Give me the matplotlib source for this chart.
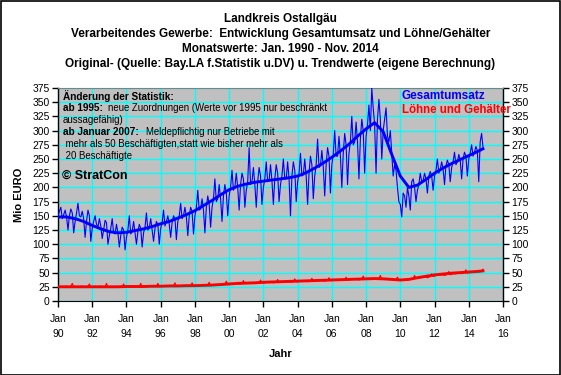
import matplotlib
matplotlib.use("Agg")
import matplotlib.pyplot as plt
from matplotlib.patches import Rectangle
import numpy as np

# ---------------- data ----------------
start_year = 1990
umsatz = [
    150, 158, 165, 145, 152, 160, 148, 125, 150, 162, 155, 120,   # 1990
    140, 155, 172, 150, 148, 158, 145, 112, 140, 160, 150, 105,   # 1991
    128, 140, 150, 135, 130, 145, 132, 110, 125, 142, 138, 100,   # 1992
    115, 128, 145, 120, 118, 135, 120, 95, 115, 130, 125, 90,     # 1993
    112, 125, 150, 118, 122, 140, 120, 100, 122, 135, 128, 95,    # 1994
    120, 130, 155, 125, 128, 145, 125, 105, 128, 140, 135, 100,   # 1995
    128, 138, 160, 132, 140, 150, 135, 112, 138, 150, 145, 108,   # 1996
    140, 150, 172, 145, 150, 165, 148, 115, 150, 165, 158, 118,   # 1997
    150, 165, 195, 160, 162, 180, 160, 120, 165, 185, 170, 130,   # 1998
    165, 180, 215, 175, 180, 205, 180, 140, 185, 205, 190, 150,   # 1999
    185, 200, 230, 195, 200, 225, 200, 160, 205, 225, 215, 165,   # 2000
    195, 210, 270, 205, 210, 235, 205, 165, 210, 235, 220, 170,   # 2001
    200, 215, 245, 210, 212, 240, 212, 170, 215, 240, 225, 175,   # 2002
    205, 220, 250, 215, 215, 245, 215, 150, 220, 245, 230, 175,   # 2003
    210, 225, 260, 220, 222, 250, 220, 170, 225, 255, 240, 180,   # 2004
    220, 240, 285, 235, 238, 265, 235, 185, 240, 270, 255, 190,   # 2005
    240, 258, 300, 255, 255, 290, 255, 200, 260, 295, 275, 205,   # 2006
    260, 280, 325, 275, 280, 315, 280, 215, 285, 320, 300, 225,   # 2007
    290, 310, 345, 300, 375, 340, 310, 225, 320, 355, 320, 250,   # 2008
    300, 320, 340, 290, 280, 300, 260, 220, 240, 230, 200, 175,   # 2009
    170, 148, 190, 185, 165, 200, 185, 160, 210, 215, 200, 175,   # 2010
    195, 205, 225, 210, 212, 225, 215, 190, 220, 228, 220, 195,   # 2011
    220, 230, 250, 225, 232, 245, 232, 205, 238, 248, 240, 210,   # 2012
    235, 245, 262, 240, 245, 258, 248, 215, 250, 262, 255, 220,   # 2013
    250, 260, 275, 255, 262, 272, 265, 210, 280, 295, 270,        # 2014 (Jan-Nov)
]
loehne = [
    25, 25, 25, 26, 25, 26, 26, 25, 25, 26, 31, 26,
    25, 25, 25, 25, 26, 26, 25, 25, 25, 26, 30, 25,
    25, 25, 26, 25, 25, 26, 26, 25, 25, 25, 31, 25,
    25, 24, 25, 25, 25, 26, 25, 25, 24, 25, 30, 25,
    25, 25, 25, 25, 26, 26, 25, 25, 25, 26, 31, 25,
    25, 25, 26, 26, 26, 27, 26, 26, 26, 26, 31, 26,
    26, 26, 26, 26, 26, 27, 26, 26, 26, 27, 32, 26,
    26, 26, 26, 27, 27, 27, 27, 26, 26, 27, 32, 27,
    27, 27, 27, 27, 28, 28, 28, 27, 28, 28, 33, 28,
    28, 28, 28, 29, 29, 29, 29, 28, 29, 29, 35, 29,
    29, 30, 30, 30, 30, 31, 31, 30, 30, 31, 36, 31,
    31, 31, 31, 32, 32, 32, 32, 31, 32, 32, 37, 32,
    32, 32, 33, 33, 33, 33, 33, 32, 33, 33, 38, 33,
    33, 33, 34, 34, 34, 34, 34, 33, 34, 34, 39, 34,
    34, 35, 35, 35, 35, 36, 35, 34, 35, 35, 40, 35,
    35, 36, 36, 36, 36, 37, 36, 35, 36, 36, 41, 36,
    36, 37, 37, 37, 37, 38, 37, 36, 37, 38, 42, 37,
    37, 38, 38, 38, 38, 39, 38, 37, 38, 39, 44, 38,
    38, 39, 39, 39, 39, 40, 39, 38, 39, 40, 45, 39,
    38, 38, 38, 38, 38, 39, 38, 37, 38, 38, 42, 37,
    36, 37, 37, 38, 38, 39, 39, 38, 39, 40, 45, 40,
    40, 41, 41, 42, 42, 43, 42, 41, 42, 43, 48, 43,
    44, 45, 45, 45, 46, 46, 46, 45, 46, 47, 52, 46,
    47, 48, 48, 48, 49, 49, 49, 48, 49, 50, 55, 49,
    50, 50, 51, 51, 51, 52, 52, 51, 52, 53, 56,
]
trend_years = [1990.0, 1990.5, 1991.0, 1991.5, 1992.0, 1992.5, 1993.0, 1993.5,
               1994.0, 1994.5, 1995.0, 1995.5, 1996.0, 1996.5, 1997.0, 1997.5,
               1998.0, 1998.5, 1999.0, 1999.5, 2000.0, 2000.5, 2001.0, 2001.5,
               2002.0, 2002.5, 2003.0, 2003.5, 2004.0, 2004.5, 2005.0, 2005.5,
               2006.0, 2006.5, 2007.0, 2007.5, 2008.0, 2008.5, 2009.0, 2009.5,
               2010.0, 2010.5, 2011.0, 2011.5, 2012.0, 2012.5, 2013.0, 2013.5,
               2014.0, 2014.5, 2014.83]
umsatz_trend = [148, 148, 145, 140, 133, 127, 122, 120,
                121, 124, 127, 131, 136, 140, 146, 152,
                159, 168, 177, 187, 196, 202, 206, 209,
                211, 213, 215, 217, 220, 226, 234, 243,
                253, 264, 276, 290, 303, 314, 298, 258,
                220, 200, 204, 214, 225, 234, 242, 249,
                256, 263, 268]
loehne_trend = [25, 25, 25, 25, 25, 25, 25, 25,
                25.5, 25.5, 25.5, 26, 26, 26.5, 26.5, 27,
                27, 27.5, 28, 29, 30, 31, 31.5, 32,
                33, 33.5, 34, 34.5, 35, 35.5, 36, 36.5,
                37, 37.5, 38, 38.5, 39, 39.5, 39, 38,
                37, 38, 41, 43.5, 46, 47.5, 49, 50,
                51, 52, 53]
xtick_years = list(range(1990, 2017, 2))
xtick_labels = ["Jan\n%02d" % (y % 100) for y in xtick_years]
yticks = list(range(0, 376, 25))

title_lines = ["Landkreis Ostallgäu",
               "Verarbeitendes Gewerbe:  Entwicklung Gesamtumsatz und Löhne/Gehälter",
               "Monatswerte: Jan. 1990 - Nov. 2014",
               "Original- (Quelle: Bay.LA f.Statistik u.DV) u. Trendwerte (eigene Berechnung)"]

# ---------------- figure ----------------
plt.rcParams['font.family'] = ['Liberation Sans', 'DejaVu Sans']
W, H = 561, 375
fig = plt.figure(figsize=(W / 100, H / 100), dpi=100)
fig.patch.set_facecolor('white')
fig.add_artist(Rectangle((0.5 / W, 0.5 / H), 1 - 1.5 / W, 1 - 1.5 / H,
                         transform=fig.transFigure, fill=False,
                         edgecolor='black', linewidth=1.2))

def fx(px):
    return px / W

def fy(py):
    return 1 - py / H

ax = fig.add_axes([fx(58), fy(301), fx(503) - fx(58), fy(88) - fy(301)])
ax.set_facecolor('#C0C0C0')

x_u = start_year + np.arange(len(umsatz)) / 12.0
x_l = start_year + np.arange(len(loehne)) / 12.0

ax.plot(x_u, umsatz, color='#0000FF', lw=0.8, zorder=3)
ax.plot(trend_years, umsatz_trend, color='#0000FF', lw=2.1, zorder=4)
ax.plot(x_l, loehne, color='#FF0000', lw=0.8, zorder=3)
ax.plot(trend_years, loehne_trend, color='#FF0000', lw=2.1, zorder=4)

ax.set_xlim(1990, 2016)
ax.set_ylim(0, 375)
ax.set_xticks(xtick_years)
ax.set_xticklabels(xtick_labels, fontsize=7.5, linespacing=1.7)
ax.set_yticks(yticks)
ax.grid(True, color='#00FFFF', lw=1.0, zorder=1)
ax.set_axisbelow(True)
ax.tick_params(axis='y', direction='out', length=4, width=1, labelsize=7.5,
               left=True, right=True, labelleft=True, labelright=True, pad=2)
ax.tick_params(axis='x', direction='out', length=4, width=1, pad=5)

for s in ['left', 'right']:
    ax.spines[s].set_color('black')
    ax.spines[s].set_linewidth(1)
ax.spines['top'].set_color('#808080')
ax.spines['bottom'].set_color('black')
ax.spines['bottom'].set_linestyle((0, (1, 1)))

# titles
for i, t in enumerate(title_lines):
    fig.text(0.5, fy(19 + i * 15), t, ha='center', va='center',
             fontsize=8.5, fontweight='bold')

fig.text(fx(19), fy(195), "Mio EURO", rotation=90, ha='center', va='center',
         fontsize=8, fontweight='bold')
fig.text(fx(281), fy(354), "Jahr", ha='center', va='center',
         fontsize=8, fontweight='bold')

# legend texts
fig.text(fx(402), fy(96), "Gesamtumsatz", color='#0000FF', fontsize=8.5,
         fontweight='bold', ha='left', va='center', zorder=10)
fig.text(fx(402), fy(110), "Löhne und Gehälter", color='#FF0000', fontsize=8.3,
         fontweight='bold', ha='left', va='center', zorder=10)

# annotation
fs = 6.9
fig.text(fx(63), fy(96), "Änderung der Statistik:", fontsize=7.2, fontweight='bold',
         ha='left', va='center')
fig.text(fx(63), fy(108), "ab 1995:", fontsize=7.2, fontweight='bold', ha='left', va='center')
fig.text(fx(108), fy(108), "neue Zuordnungen (Werte vor 1995 nur beschränkt",
         fontsize=fs, ha='left', va='center')
fig.text(fx(63), fy(120), "aussagefähig)", fontsize=fs, ha='left', va='center')
fig.text(fx(63), fy(132), "ab Januar 2007:", fontsize=7.2, fontweight='bold', ha='left', va='center')
fig.text(fx(146), fy(132), "Meldepflichtig nur Betriebe mit", fontsize=fs,
         ha='left', va='center')
fig.text(fx(63), fy(144), " mehr als 50 Beschäftigten,statt wie bisher mehr als",
         fontsize=fs, ha='left', va='center')
fig.text(fx(63), fy(156), " 20 Beschäftigte", fontsize=fs, ha='left', va='center')
fig.text(fx(62), fy(176), "© StratCon", fontsize=9, fontweight='bold',
         ha='left', va='center')

fig.savefig("out.png", dpi=100)
